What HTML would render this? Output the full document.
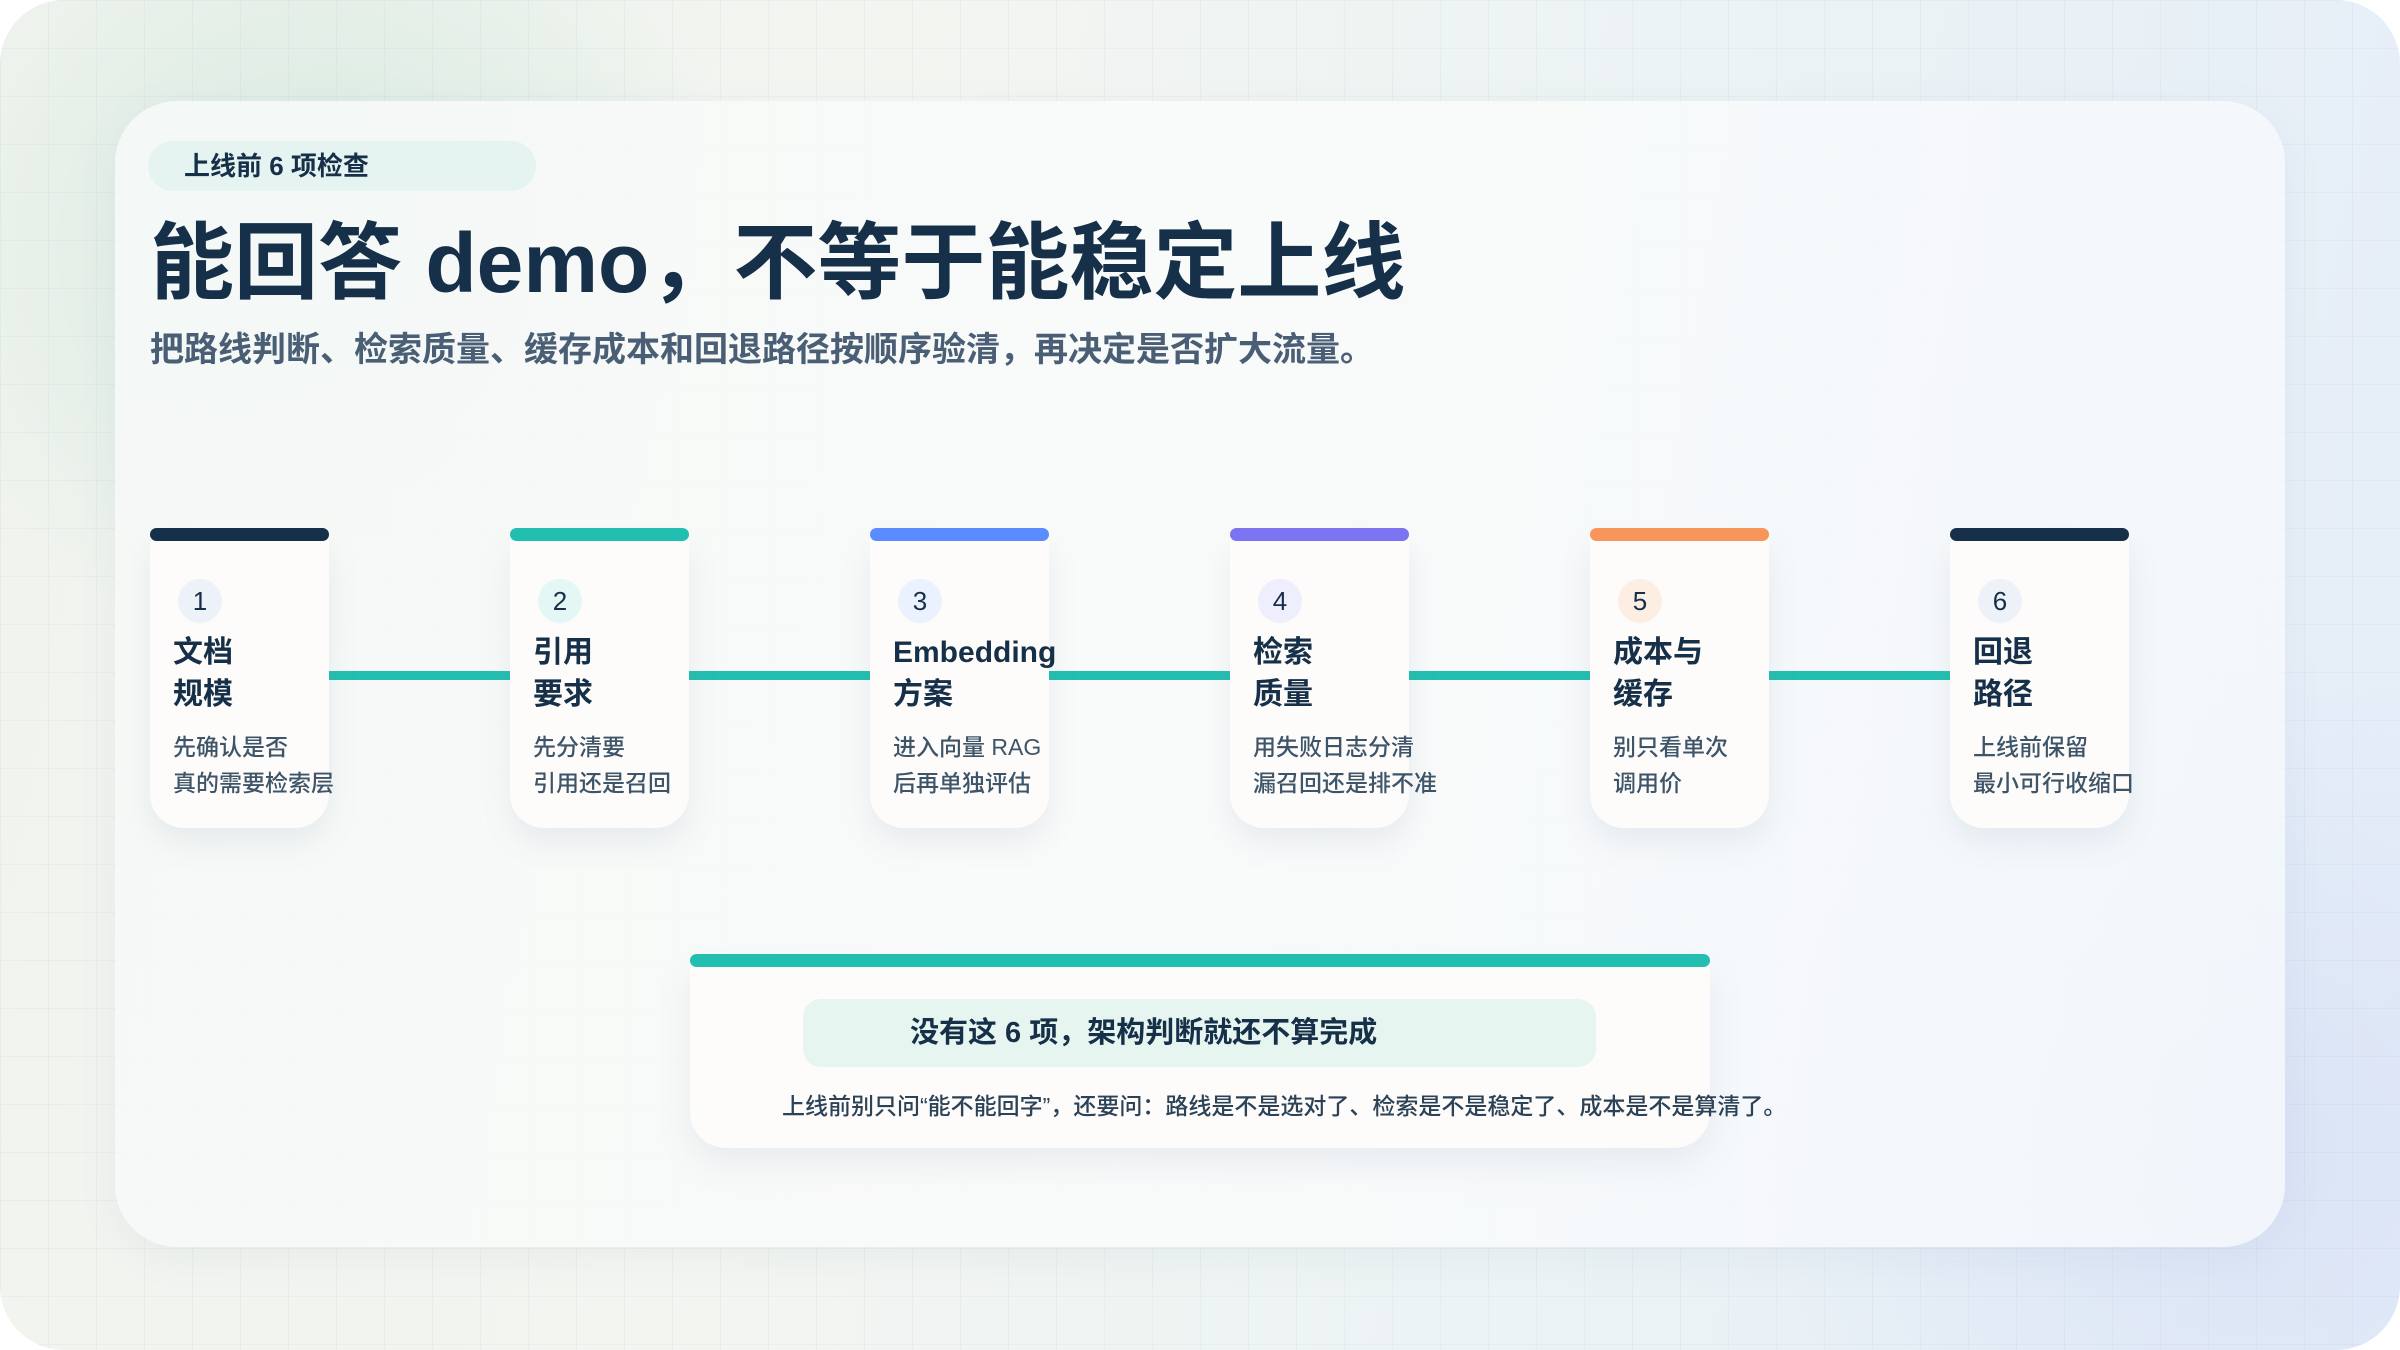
<!DOCTYPE html>
<html><head><meta charset="utf-8">
<style>
*{margin:0;padding:0;box-sizing:border-box}
html,body{width:2400px;height:1350px;overflow:hidden;background:#fff}
body{font-family:"Liberation Sans","Noto Sans CJK SC",sans-serif;color:#163049}
.frame{position:absolute;left:0;top:0;width:2400px;height:1350px;border-radius:64px;overflow:hidden;
background:
radial-gradient(circle at 330px 250px,rgba(190,225,210,.55),rgba(255,255,255,0) 420px),
radial-gradient(circle at 2250px 1150px,rgba(215,225,245,.8),rgba(255,255,255,0) 500px),
linear-gradient(100deg,#f0f3ee 0%,#f3f5f1 35%,#ecf3f4 65%,#e5edf9 100%);}
.grid{position:absolute;inset:0;background-image:linear-gradient(rgba(120,150,170,.07) 1px,transparent 1px),linear-gradient(90deg,rgba(120,150,170,.07) 1px,transparent 1px);background-size:48px 48px}
.card{position:absolute;left:115px;top:101px;width:2170px;height:1146px;border-radius:62px;
background:linear-gradient(100deg,rgba(246,249,247,.9),rgba(250,251,251,.92) 50%,rgba(244,248,252,.9));box-shadow:0 10px 40px rgba(120,140,160,.08)}
.pill{position:absolute;left:148px;top:141px;width:388px;height:50px;border-radius:25px;background:#e6f4f1;font-size:26px;font-weight:600;line-height:50px;padding-left:36px;color:#163049}
.title{position:absolute;left:150px;top:208px;font-size:84px;font-weight:700;white-space:nowrap;line-height:110px;color:#163049}
.sub{position:absolute;left:150px;top:330px;font-size:34px;font-weight:600;color:#4a5f75;white-space:nowrap;line-height:40px}
.conn{position:absolute;top:671px;height:9px;background:#22bfb0}
.step{position:absolute;top:528px;width:179px;height:300px}
.step .bar{position:absolute;left:0;top:0;width:179px;height:13px;border-radius:7px}
.step .body{position:absolute;left:0;top:10px;width:179px;height:290px;background:#fdfcfb;border-radius:0 0 34px 34px;box-shadow:0 14px 30px rgba(120,140,160,.13)}
.step .num{position:absolute;left:28px;top:51px;width:44px;height:44px;border-radius:50%;text-align:center;line-height:44px;font-size:26px;color:#163049}
.step .t{position:absolute;left:23px;top:104px;font-size:30px;font-weight:700;line-height:42px;white-space:nowrap;color:#163049}
.step .d{position:absolute;left:23px;top:201px;font-size:23px;font-weight:500;line-height:36px;white-space:nowrap;color:#3e5569}
.bottom{position:absolute;left:690px;top:954px;width:1020px;height:194px}
.bottom .bar{position:absolute;left:0;top:0;width:1020px;height:13px;border-radius:7px;background:#22bfb0}
.bottom .body{position:absolute;left:0;top:10px;width:1020px;height:184px;background:#fdfcfb;border-radius:0 0 36px 36px;box-shadow:0 14px 34px rgba(120,140,160,.13)}
.bottom .in{position:absolute;left:113px;top:45px;width:793px;height:68px;border-radius:18px;background:#e6f5ef;font-size:29px;font-weight:700;line-height:68px;padding-left:107px;color:#163049;white-space:nowrap}
.bottom .note{position:absolute;left:92px;top:133px;font-size:23px;font-weight:500;white-space:nowrap;color:#2c4257}
</style></head><body>
<div class="frame"><div class="grid"></div>
<div class="card"></div>
<div class="pill">上线前 6 项检查</div>
<div class="title">能回答 demo，不等于能稳定上线</div>
<div class="sub">把路线判断、检索质量、缓存成本和回退路径按顺序验清，再决定是否扩大流量。</div>

<div class="conn" style="left:329px;width:181px"></div>
<div class="conn" style="left:689px;width:181px"></div>
<div class="conn" style="left:1049px;width:181px"></div>
<div class="conn" style="left:1409px;width:181px"></div>
<div class="conn" style="left:1769px;width:181px"></div>

<div class="step" style="left:150px"><div class="body"></div><div class="bar" style="background:#163049"></div><div class="num" style="background:#edf2f8">1</div><div class="t">文档<br>规模</div><div class="d">先确认是否<br>真的需要检索层</div></div>
<div class="step" style="left:510px"><div class="body"></div><div class="bar" style="background:#22bfb0"></div><div class="num" style="background:#e3f7f4">2</div><div class="t">引用<br>要求</div><div class="d">先分清要<br>引用还是召回</div></div>
<div class="step" style="left:870px"><div class="body"></div><div class="bar" style="background:#5b8cff"></div><div class="num" style="background:#eaf1ff">3</div><div class="t">Embedding<br>方案</div><div class="d">进入向量 RAG<br>后再单独评估</div></div>
<div class="step" style="left:1230px"><div class="body"></div><div class="bar" style="background:#7b73f0"></div><div class="num" style="background:#efeefd">4</div><div class="t">检索<br>质量</div><div class="d">用失败日志分清<br>漏召回还是排不准</div></div>
<div class="step" style="left:1590px"><div class="body"></div><div class="bar" style="background:#f7955a"></div><div class="num" style="background:#fdeee3">5</div><div class="t">成本与<br>缓存</div><div class="d">别只看单次<br>调用价</div></div>
<div class="step" style="left:1950px"><div class="body"></div><div class="bar" style="background:#163049"></div><div class="num" style="background:#edf2f8">6</div><div class="t">回退<br>路径</div><div class="d">上线前保留<br>最小可行收缩口</div></div>

<div class="bottom"><div class="body"></div><div class="bar"></div>
<div class="in">没有这 6 项，架构判断就还不算完成</div>
<div class="note">上线前别只问“能不能回字”，还要问：路线是不是选对了、检索是不是稳定了、成本是不是算清了。</div>
</div>
</div>
</body></html>
